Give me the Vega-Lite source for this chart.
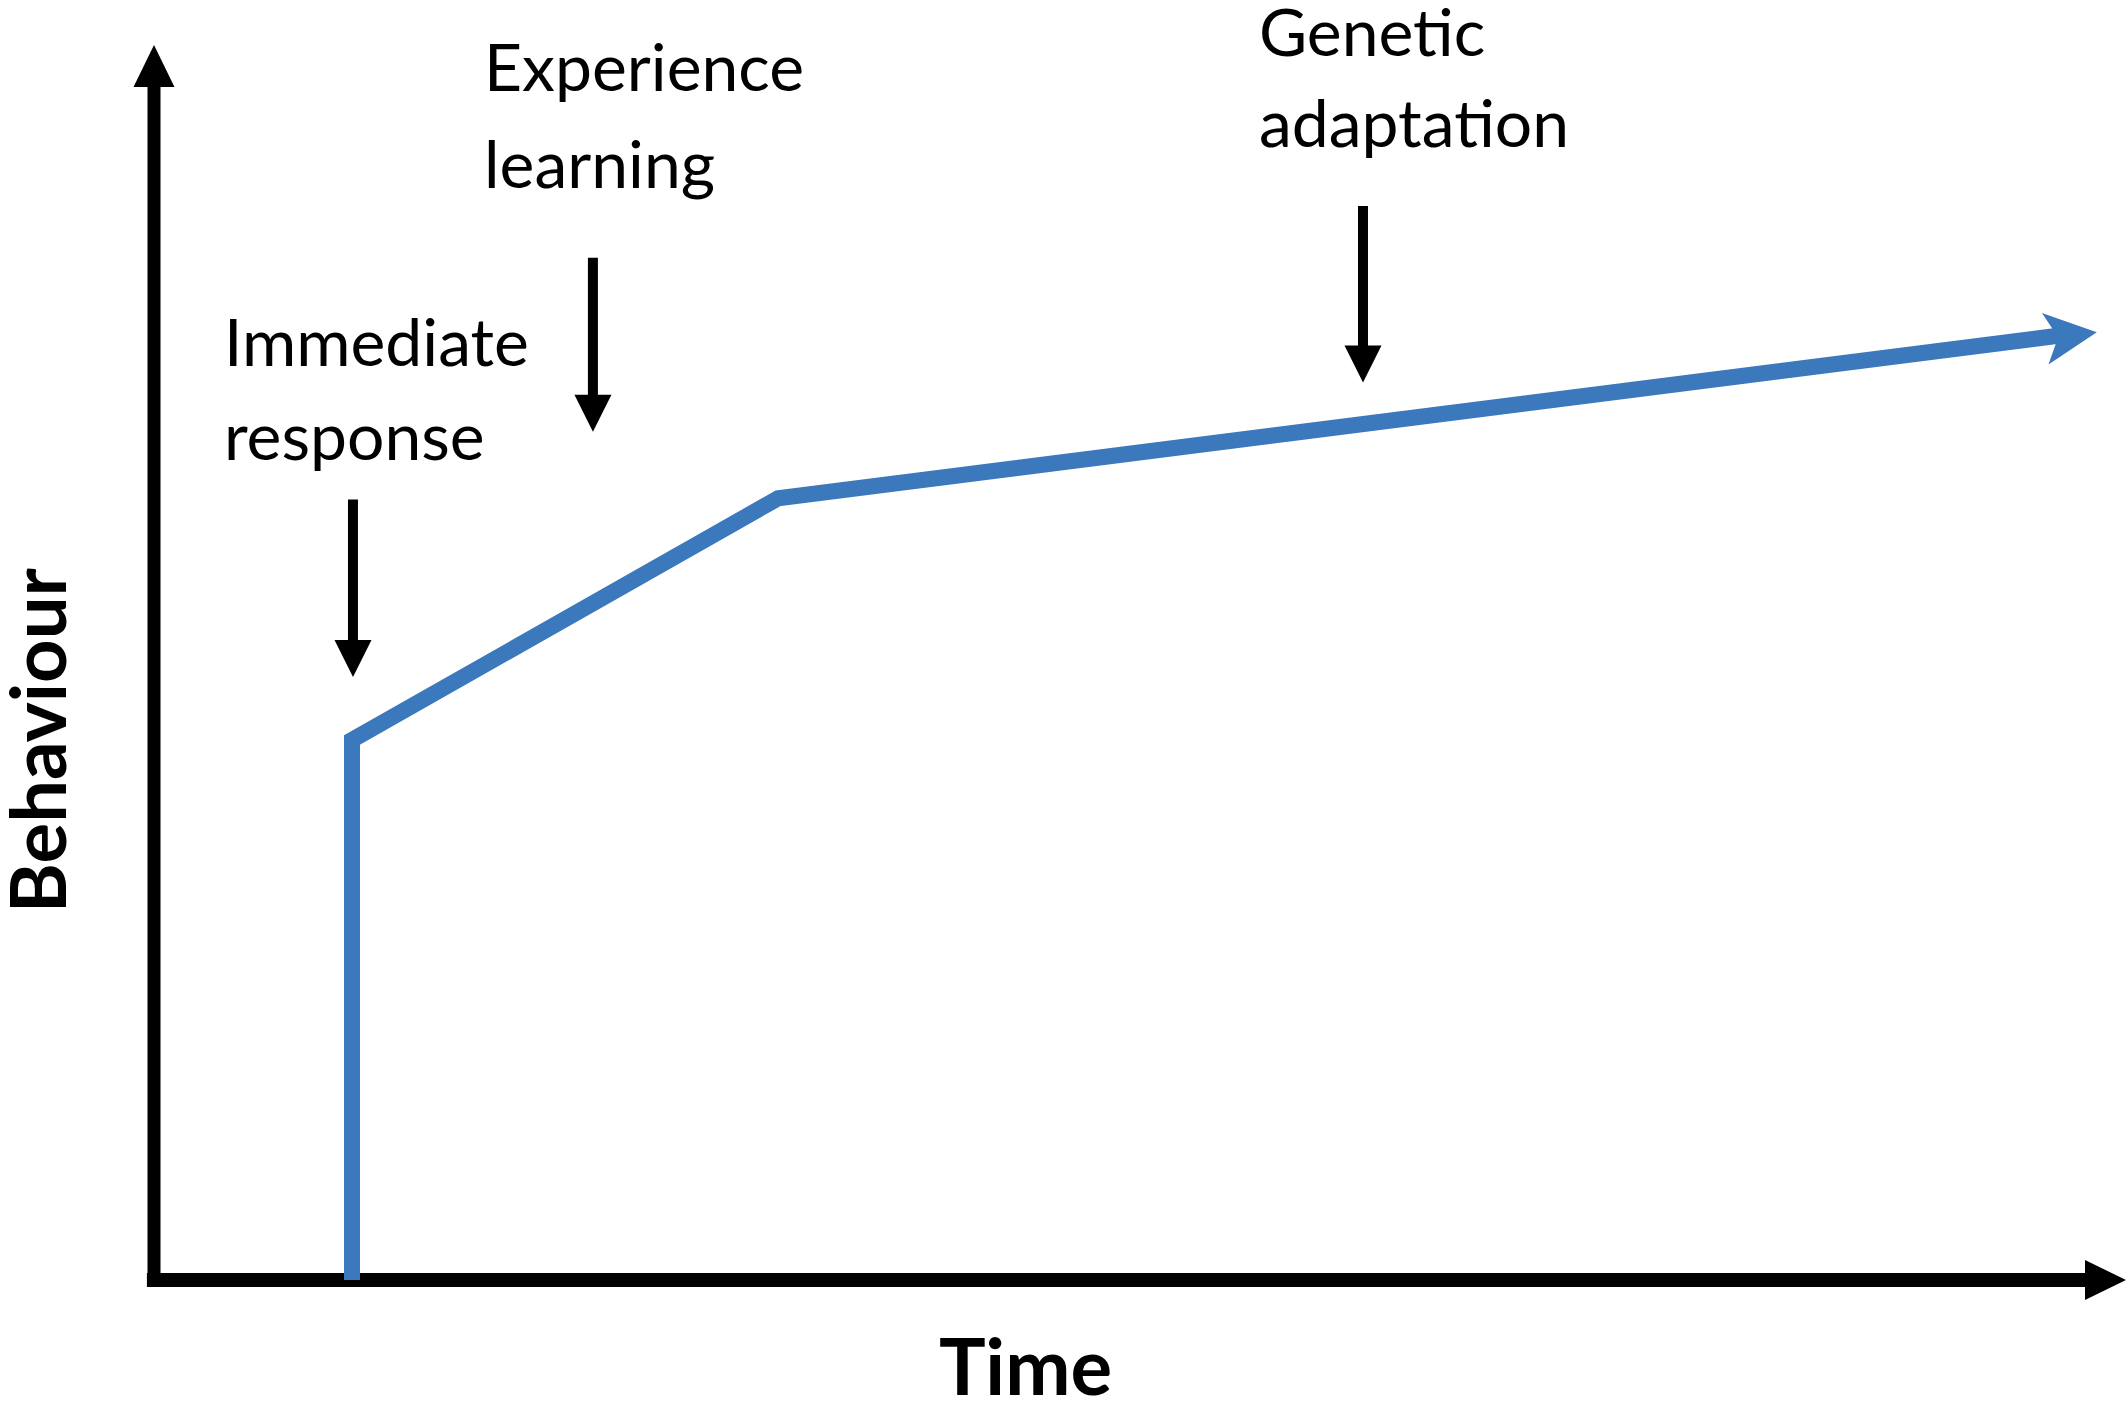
{
  "$schema": "https://vega.github.io/schema/vega-lite/v6.json",
  "width": 1970,
  "height": 1233,
  "autosize": {"type": "none"},
  "padding": {"left": 154, "top": 47, "right": 4, "bottom": 121},
  "background": "white",
  "config": {"view": {"stroke": null}, "font": "Lato"},
  "encoding": {
    "x": {
      "field": "x", "type": "quantitative",
      "scale": {"domain": [0, 100], "nice": false, "zero": false},
      "axis": {"title": "Time", "domain": false, "ticks": false, "labels": false, "grid": false,
        "titleFont": "Lato", "titleFontWeight": "bold", "titleFontSize": 78, "titleColor": "black",
        "titleX": 871, "titleY": 114, "titleAlign": "center", "titleBaseline": "alphabetic", "titleAnchor": null}
    },
    "y": {
      "field": "y", "type": "quantitative",
      "scale": {"domain": [0, 100], "nice": false, "zero": false},
      "axis": {"title": "Behaviour", "domain": false, "ticks": false, "labels": false, "grid": false,
        "titleFont": "Lato", "titleFontWeight": "bold", "titleFontSize": 76, "titleColor": "black",
        "titleAngle": 270, "titleX": -89, "titleY": 693, "titleAlign": "center", "titleBaseline": "alphabetic", "titleAnchor": null}
    }
  },
  "layer": [
    {
      "data": {"values": [{"x": 0, "y": -0.57, "y2": 97.3}]},
      "mark": {"type": "rule", "color": "black", "strokeWidth": 13, "strokeCap": "butt"},
      "encoding": {"y2": {"field": "y2"}}
    },
    {
      "data": {"values": [{"x": -0.36, "x2": 98.53, "y": 0}]},
      "mark": {"type": "rule", "color": "black", "strokeWidth": 14, "strokeCap": "butt"},
      "encoding": {"x2": {"field": "x2"}}
    },
    {
      "data": {"values": [{"x": 0, "y": 98.46}]},
      "mark": {"type": "point", "filled": true, "color": "black", "opacity": 1, "strokeWidth": 0, "size": 1764,
        "shape": "M0,-1L0.976,1L-0.976,1Z"}
    },
    {
      "data": {"values": [{"x": 99.06, "y": 0}]},
      "mark": {"type": "point", "filled": true, "color": "black", "opacity": 1, "strokeWidth": 0, "size": 1681,
        "shape": "M1,0L-1,-0.976L-1,0.976Z"}
    },
    {
      "data": {"values": [
        {"x": 10.05, "y": 0, "order": 1},
        {"x": 10.05, "y": 43.8, "order": 2},
        {"x": 31.68, "y": 63.4, "order": 3},
        {"x": 96.75, "y": 76.6, "order": 4}
      ]},
      "mark": {"type": "line", "color": "#3b78bc", "strokeWidth": 16, "strokeJoin": "miter", "strokeCap": "butt"},
      "encoding": {"order": {"field": "order", "type": "quantitative"}}
    },
    {
      "data": {"values": [{"x": 97.31, "y": 76.6}]},
      "mark": {"type": "point", "filled": true, "color": "#3b78bc", "opacity": 1, "strokeWidth": 0, "size": 2704,
        "angle": -7.2, "shape": "M1,0L-1,-1L-0.5,0L-1,1Z"}
    },
    {
      "data": {"values": [
        {"x": 10.1, "y": 63.3, "y2": 50.0},
        {"x": 22.28, "y": 82.9, "y2": 69.9},
        {"x": 61.37, "y": 87.1, "y2": 73.9}
      ]},
      "mark": {"type": "rule", "color": "black", "strokeWidth": 10, "strokeCap": "butt"},
      "encoding": {"y2": {"field": "y2"}}
    },
    {
      "data": {"values": [
        {"x": 10.1, "y": 50.4},
        {"x": 22.28, "y": 70.3},
        {"x": 61.37, "y": 74.3}
      ]},
      "mark": {"type": "point", "filled": true, "color": "black", "opacity": 1, "strokeWidth": 0, "size": 1369,
        "shape": "M-1,-1L1,-1L0,1Z"}
    },
    {
      "data": {"values": [
        {"x": 3.55, "y": 74.1, "label": "Immediate"},
        {"x": 3.55, "y": 66.5, "label": "response"},
        {"x": 16.75, "y": 96.4, "label": "Experience"},
        {"x": 16.75, "y": 88.6, "label": "learning"},
        {"x": 56.09, "y": 99.3, "label": "Genetic"},
        {"x": 56.09, "y": 91.9, "label": "adaptation"}
      ]},
      "mark": {"type": "text", "font": "Lato", "fontSize": 66, "color": "black", "align": "left", "baseline": "alphabetic"},
      "encoding": {"text": {"field": "label"}}
    }
  ]
}
